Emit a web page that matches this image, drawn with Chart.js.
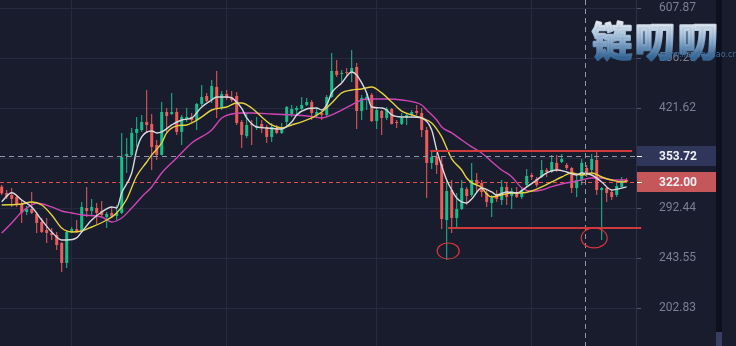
<!DOCTYPE html>
<html>
<head>
<meta charset="utf-8">
<script src="https://cdn.jsdelivr.net/npm/chart.js@4.4.1/dist/chart.umd.min.js"></script>
<style>
  html, body { margin: 0; padding: 0; background: #191c2d; }
  canvas { display: block; }
</style>
</head>
<body>
<canvas id="kline" width="736" height="346"></canvas>
<script>
// candles (oldest first)
const opens = [
  316.2, 309.0, 306.7, 304.5, 296.8, 288.2, 291.4, 286.1, 277.9, 269.8,
  266.9, 265.0, 257.3, 239.2, 267.9, 270.8, 268.9, 292.5, 289.3, 292.5,
  289.3, 283.0, 287.2, 284.1, 287.2, 353.8, 355.1, 384.9, 389.1, 400.7,
  397.8, 368.3, 355.1, 415.6, 412.6, 415.6, 386.3, 405.1, 408.1, 403.6,
  428.0, 440.7, 434.2, 455.5, 421.7, 443.9, 439.1, 440.7, 400.7, 380.7,
  397.8, 392.0, 397.8, 393.4, 379.3, 392.0, 384.9, 400.7, 412.6, 418.6,
  420.2, 426.4, 431.1, 411.1, 414.1, 411.1, 439.1, 482.9, 477.7, 481.1,
  479.4, 490.0, 417.1, 434.2, 442.3, 402.1, 417.1, 406.6, 420.2, 400.7,
  397.8, 406.6, 411.1, 417.1, 414.1, 389.1, 344.9, 352.5, 343.6, 279.9,
  312.4, 282.0, 291.4, 313.5, 306.7, 324.0, 320.5, 309.0, 297.9, 307.9,
  301.1, 315.9, 305.6, 310.1, 304.5, 318.2, 330.0, 325.2, 327.6, 336.1,
  333.7, 344.9, 346.1, 342.3, 338.6, 314.7, 324.0, 338.6, 336.1, 348.6,
  312.4, 314.7, 310.1, 306.7, 315.9, 324.0
];
const highs = [
  318.2, 312.4, 314.7, 306.7, 301.1, 294.6, 310.1, 288.2, 282.0, 282.0,
  271.8, 267.9, 258.3, 268.5, 272.8, 279.9, 299.0, 315.9, 302.3, 297.9,
  300.0, 288.2, 293.6, 295.7, 384.9, 377.9, 392.0, 408.1, 411.1, 450.4,
  412.6, 375.1, 431.1, 421.7, 445.6, 421.7, 411.1, 421.7, 414.1, 429.5,
  458.8, 445.6, 467.2, 482.9, 448.8, 450.4, 448.8, 447.2, 403.6, 414.1,
  403.6, 408.1, 403.6, 396.3, 399.2, 396.3, 399.2, 424.9, 426.4, 424.9,
  439.1, 437.5, 434.2, 421.7, 415.6, 442.3, 515.8, 502.7, 484.6, 488.2,
  521.4, 497.3, 442.3, 445.6, 445.6, 423.3, 418.6, 423.3, 421.7, 403.6,
  414.1, 414.1, 418.6, 426.4, 421.7, 393.4, 359.0, 357.7, 352.5, 324.0,
  324.0, 309.0, 324.0, 315.9, 344.9, 332.5, 324.0, 312.4, 306.7, 312.4,
  324.0, 320.5, 314.7, 315.9, 315.9, 337.3, 332.5, 327.6, 348.6, 338.6,
  355.1, 355.1, 356.4, 344.9, 339.8, 332.5, 349.9, 342.3, 356.4, 359.0,
  315.9, 315.9, 312.4, 320.5, 327.6, 326.4
];
const lows = [
  306.7, 302.3, 293.6, 293.6, 276.9, 285.1, 286.1, 266.9, 266.9, 257.3,
  260.1, 250.8, 231.4, 234.8, 266.9, 266.9, 267.9, 283.0, 285.1, 275.9,
  283.0, 271.8, 282.0, 279.9, 286.1, 332.5, 352.5, 365.7, 386.3, 384.9,
  336.1, 348.6, 354.5, 386.3, 411.1, 382.1, 368.3, 400.7, 400.7, 389.1,
  424.9, 431.1, 429.5, 406.6, 418.6, 434.2, 431.1, 396.3, 364.3, 377.9,
  368.3, 389.1, 384.9, 371.0, 372.4, 383.5, 383.5, 392.0, 408.1, 411.1,
  418.6, 424.9, 403.6, 408.1, 403.6, 408.1, 437.5, 472.4, 463.9, 475.9,
  463.9, 390.5, 403.6, 418.6, 400.7, 390.5, 382.1, 403.6, 397.0, 392.0,
  396.3, 396.3, 408.1, 411.1, 379.3, 303.4, 337.3, 331.2, 270.8, 241.8,
  266.9, 272.8, 290.3, 295.7, 304.5, 310.1, 304.5, 293.6, 283.0, 299.0,
  295.7, 295.7, 291.4, 303.4, 302.3, 315.9, 324.0, 315.9, 326.4, 327.6,
  332.5, 333.7, 344.9, 336.1, 309.0, 304.5, 318.2, 327.6, 332.5, 306.7,
  260.1, 299.0, 301.1, 304.5, 315.5, 320.5
];
const closes = [
  308.7, 304.5, 302.3, 296.8, 287.2, 291.4, 287.2, 276.9, 267.9, 266.9,
  265.0, 255.4, 239.2, 267.9, 270.8, 267.9, 293.6, 289.3, 293.6, 287.2,
  285.1, 286.1, 284.1, 287.2, 352.5, 356.4, 384.9, 390.5, 400.7, 396.3,
  365.7, 355.1, 415.6, 409.6, 415.6, 386.3, 408.1, 408.1, 403.6, 428.0,
  439.1, 432.7, 457.1, 421.7, 443.9, 437.5, 434.2, 399.2, 382.1, 396.3,
  396.3, 394.9, 392.0, 379.3, 393.4, 384.9, 393.4, 423.3, 420.2, 421.7,
  426.4, 431.1, 414.1, 415.6, 411.1, 439.1, 482.9, 475.9, 479.4, 479.4,
  488.2, 417.1, 437.5, 439.1, 402.1, 418.6, 406.6, 420.2, 397.8, 399.2,
  406.6, 411.1, 415.6, 414.1, 389.1, 344.9, 352.5, 342.3, 280.9, 311.2,
  282.0, 291.4, 314.7, 305.6, 324.0, 319.3, 310.1, 299.0, 303.4, 302.3,
  315.9, 304.5, 311.2, 304.5, 312.4, 328.8, 327.6, 318.2, 336.1, 333.7,
  346.1, 336.1, 349.9, 338.6, 314.7, 324.0, 344.9, 330.0, 349.9, 312.4,
  314.7, 309.0, 304.5, 317.0, 324.0, 322.0
];

// moving averages, [candle index, price]
const maFast = [
  [0,299.3],[2,309.3],[4,301.1],[6,293.6],[8,279.9],[10,267.9],[12,260.1],[13,260.1],[15,262.1],
  [16,267.9],[18,279.9],[20,288.2],[22,293.6],[23,292.5],[24,309.0],[26,332.5],[27,361.6],
  [28,379.3],[30,387.7],[31,384.9],[32,386.3],[34,396.3],[36,403.6],[38,406.6],[40,423.3],
  [42,434.2],[43,439.1],[45,439.1],[46,437.5],[48,421.0],[49,406.6],[51,393.4],[53,392.0],
  [56,390.5],[58,400.7],[59,411.1],[61,420.2],[63,421.7],[64,418.6],[65,426.4],[66,445.6],
  [68,462.2],[70,481.1],[71,475.9],[72,462.2],[73,445.6],[74,423.3],[76,421.7],[77,418.6],
  [78,411.1],[80,408.1],[82,408.1],[84,406.6],[86,389.1],[87,361.6],[88,341.0],[89,324.0],
  [90,312.4],[91,303.4],[92,299.0],[93,297.9],[94,302.3],[96,314.7],[98,310.1],[99,306.7],
  [101,310.1],[103,309.0],[105,315.9],[107,324.0],[109,332.5],[111,336.1],[113,333.7],
  [115,330.0],[116,332.5],[118,330.0],[120,321.7],[122,312.4],[125,315.9]
];
const maMid = [
  [0,295.7],[4,296.8],[6,299.0],[8,295.7],[10,285.1],[12,271.8],[14,267.9],[16,268.9],[18,272.8],
  [21,279.9],[23,287.2],[25,302.0],[27,328.8],[29,346.1],[30,355.1],[32,371.0],[33,384.9],
  [35,394.9],[37,396.3],[38,399.2],[40,408.1],[42,418.6],[45,423.3],[47,429.5],[48,429.5],
  [50,421.7],[52,408.1],[54,396.3],[56,392.0],[58,396.3],[60,400.7],[62,406.6],[64,415.6],
  [66,429.5],[68,445.6],[70,450.4],[72,452.1],[74,455.5],[76,445.6],[78,431.1],[80,417.0],
  [82,411.1],[84,406.6],[86,399.2],[88,379.3],[89,364.3],[90,350.0],[92,336.1],[93,326.4],
  [94,321.0],[96,315.0],[97,307.9],[98,304.5],[100,306.7],[102,309.0],[104,309.0],[106,311.2],
  [108,315.9],[110,321.7],[112,327.6],[114,332.5],[116,330.0],[118,332.5],[120,327.6],
  [122,324.0],[124,321.7],[125,322.8]
];
const maSlow = [
  [0,266.9],[2,276.9],[4,288.2],[6,295.7],[7,297.9],[10,293.6],[12,289.3],[14,287.2],[16,285.1],
  [20,283.0],[22,277.9],[24,282.0],[26,292.5],[28,304.5],[30,315.9],[32,332.5],[35,351.2],
  [38,371.0],[42,389.1],[44,406.6],[46,412.6],[48,414.1],[50,414.1],[54,412.6],[61,409.6],
  [64,406.6],[66,411.1],[68,418.6],[70,426.4],[72,434.2],[74,435.8],[77,435.8],[80,434.2],
  [84,426.4],[85,418.6],[87,403.6],[88,393.4],[90,384.9],[92,375.1],[94,365.7],[96,357.7],
  [98,346.5],[100,336.1],[102,328.0],[104,315.0],[106,311.0],[108,312.4],[110,316.2],
  [112,319.3],[114,321.7],[116,324.0],[118,326.4],[120,326.4],[122,324.0],[125,324.0]
];

const priceTicks = [202.83, 243.55, 292.44, 351.10, 421.62, 506.25, 607.87];
const dayBreaks = [13.8, 44.8, 74.8, 105.8];
const lastPrice = 322.00;
const crossPrice = 353.72;
const crossIndex = 116.7;

// hand-drawn range markup
const rangeLines = [
  { from: 85.7, to: 126.1, price: 360.3 },
  { from: 89.3, to: 127.9, price: 271.8 }
];
const circles = [
  { at: 89.3, price: 249.9, rx: 11, ry: 8 },
  { at: 118.5, price: 262.1, rx: 13, ry: 10 }
];

const UP = '#14c08a';
const DOWN = '#ee5b5b';
const GRID = '#252a3e';

const candleColors = closes.map((c, i) => c >= opens[i] ? UP : DOWN);
const toPoints = arr => arr.map(p => ({ x: p[0], y: p[1] }));

const overlay = {
  id: 'overlay',
  beforeDatasetsDraw(chart) {
    const { ctx, chartArea: a, scales: { x, y } } = chart;
    ctx.save();
    // vertical day separators
    ctx.strokeStyle = GRID;
    ctx.lineWidth = 1;
    ctx.beginPath();
    dayBreaks.forEach(d => {
      const px = Math.round(x.getPixelForValue(d)) + 0.5;
      ctx.moveTo(px, a.top);
      ctx.lineTo(px, a.bottom);
    });
    ctx.stroke();
    // last price line
    const py = Math.round(y.getPixelForValue(lastPrice)) + 0.5;
    ctx.strokeStyle = '#e4524e';
    ctx.setLineDash([4, 3]);
    ctx.beginPath();
    ctx.moveTo(a.left, py);
    ctx.lineTo(a.right, py);
    ctx.stroke();
    ctx.restore();
  },
  afterDatasetsDraw(chart) {
    const { ctx, chartArea: a, scales: { x, y } } = chart;
    const px = Math.round(x.getPixelForValue(crossIndex)) + 0.5;
    const py = Math.round(y.getPixelForValue(crossPrice)) + 0.5;
    ctx.save();
    ctx.strokeStyle = '#9196aa';
    ctx.lineWidth = 1;
    ctx.setLineDash([5, 4]);
    ctx.beginPath();
    ctx.moveTo(a.left, py);
    ctx.lineTo(a.right, py);
    ctx.moveTo(px, a.top);
    ctx.lineTo(px, a.bottom);
    ctx.stroke();
    ctx.restore();
  },
  afterDraw(chart) {
    const { ctx, chartArea: a, scales: { x, y } } = chart;
    ctx.save();

    // support / resistance lines
    ctx.strokeStyle = '#cf3b3d';
    ctx.lineWidth = 2;
    rangeLines.forEach(r => {
      const py = y.getPixelForValue(r.price);
      ctx.beginPath();
      ctx.moveTo(x.getPixelForValue(r.from), py);
      ctx.lineTo(x.getPixelForValue(r.to), py);
      ctx.stroke();
    });
    ctx.lineWidth = 1.2;
    ctx.strokeStyle = '#d8363e';
    circles.forEach(c => {
      ctx.beginPath();
      ctx.ellipse(x.getPixelForValue(c.at), y.getPixelForValue(c.price), c.rx, c.ry, 0, 0, Math.PI * 2);
      ctx.stroke();
    });

    // price tags on the axis
    const tags = [
      { price: crossPrice, bg: '#30355a' },
      { price: lastPrice, bg: '#c5575a' }
    ];
    tags.forEach(t => {
      const py = Math.round(y.getPixelForValue(t.price));
      ctx.fillStyle = t.bg;
      ctx.fillRect(a.right + 1, py - 10, 79, 20);
      ctx.fillStyle = '#ffffff';
      ctx.fillRect(a.right + 1, py, 5, 1);
      ctx.fillStyle = '#eef0f6';
      ctx.font = 'bold 12px Roboto';
      ctx.textAlign = 'left';
      ctx.textBaseline = 'middle';
      ctx.fillText(t.price.toFixed(2), a.right + 23, py + 1);
    });

    // side strip
    ctx.fillStyle = '#0e111d';
    ctx.fillRect(716, 0, 6, 346);
    ctx.fillStyle = '#383d62';
    ctx.fillRect(716, 332, 6, 14);

    // watermark
    const g = ctx.createLinearGradient(0, 22, 0, 58);
    g.addColorStop(0, '#e9f0f8');
    g.addColorStop(0.45, '#9fbedd');
    g.addColorStop(1, '#356797');
    ctx.globalAlpha = 0.92;
    ctx.fillStyle = g;
    ctx.strokeStyle = g;
    ctx.lineWidth = 2.5;
    ctx.lineJoin = 'round';
    ctx.font = 'bold 40px "Noto Sans CJK SC"';
    ctx.textBaseline = 'alphabetic';
    ctx.textAlign = 'left';
    ['链', '叨', '叨'].forEach((ch, i) => {
      ctx.strokeText(ch, 592 + i * 43, 56);
      ctx.fillText(ch, 592 + i * 43, 56);
    });
    ctx.globalAlpha = 1;
    ctx.fillStyle = '#3f6c98';
    ctx.font = '8px "DejaVu Sans"';
    ctx.fillText('www.liandaodao.cn', 660, 57);
    ctx.restore();
  }
};

new Chart(document.getElementById('kline'), {
  type: 'bar',
  data: {
    datasets: [
      {
        type: 'line', label: 'MA5', data: toPoints(maFast), order: 0,
        borderColor: '#d9d9de', borderWidth: 1.4, pointRadius: 0,
        cubicInterpolationMode: 'monotone'
      },
      {
        type: 'line', label: 'MA10', data: toPoints(maMid), order: 0,
        borderColor: '#e6d23e', borderWidth: 1.4, pointRadius: 0,
        cubicInterpolationMode: 'monotone'
      },
      {
        type: 'line', label: 'MA30', data: toPoints(maSlow), order: 0,
        borderColor: '#cf45b6', borderWidth: 1.4, pointRadius: 0,
        cubicInterpolationMode: 'monotone'
      },
      {
        label: 'body', order: 1, grouped: false, maxBarThickness: 3, minBarLength: 1,
        data: opens.map((o, i) => ({ x: i, y: [o, closes[i]] })),
        backgroundColor: candleColors
      },
      {
        label: 'wick', order: 2, grouped: false, maxBarThickness: 1,
        data: lows.map((l, i) => ({ x: i, y: [l, highs[i]] })),
        backgroundColor: candleColors
      }
    ]
  },
  options: {
    responsive: false,
    animation: false,
    devicePixelRatio: 1,
    layout: { padding: { left: 0, top: 0, bottom: 0, right: 20 } },
    plugins: { legend: { display: false }, tooltip: { enabled: false } },
    scales: {
      x: {
        type: 'linear', min: -0.34, max: 126.86, offset: false,
        afterFit: s => { s.height = 0; },
        grid: { display: false, drawTicks: false },
        border: { display: false },
        ticks: { display: false }
      },
      y: {
        type: 'logarithmic', position: 'right', min: 176.5, max: 626.1, bounds: 'data',
        afterBuildTicks: s => { s.ticks = priceTicks.map(v => ({ value: v })); },
        afterFit: s => { s.width = 80; s.paddingTop = 0; s.paddingBottom = 0; },
        grid: { color: GRID, tickColor: '#4f546a', tickLength: 5 },
        border: { color: '#2b3047' },
        ticks: {
          color: '#7a7f96', padding: 18, crossAlign: 'near',
          font: { family: 'Roboto', size: 12 },
          callback: v => Number(v).toFixed(2)
        }
      }
    }
  },
  plugins: [overlay]
});
</script>
</body>
</html>
